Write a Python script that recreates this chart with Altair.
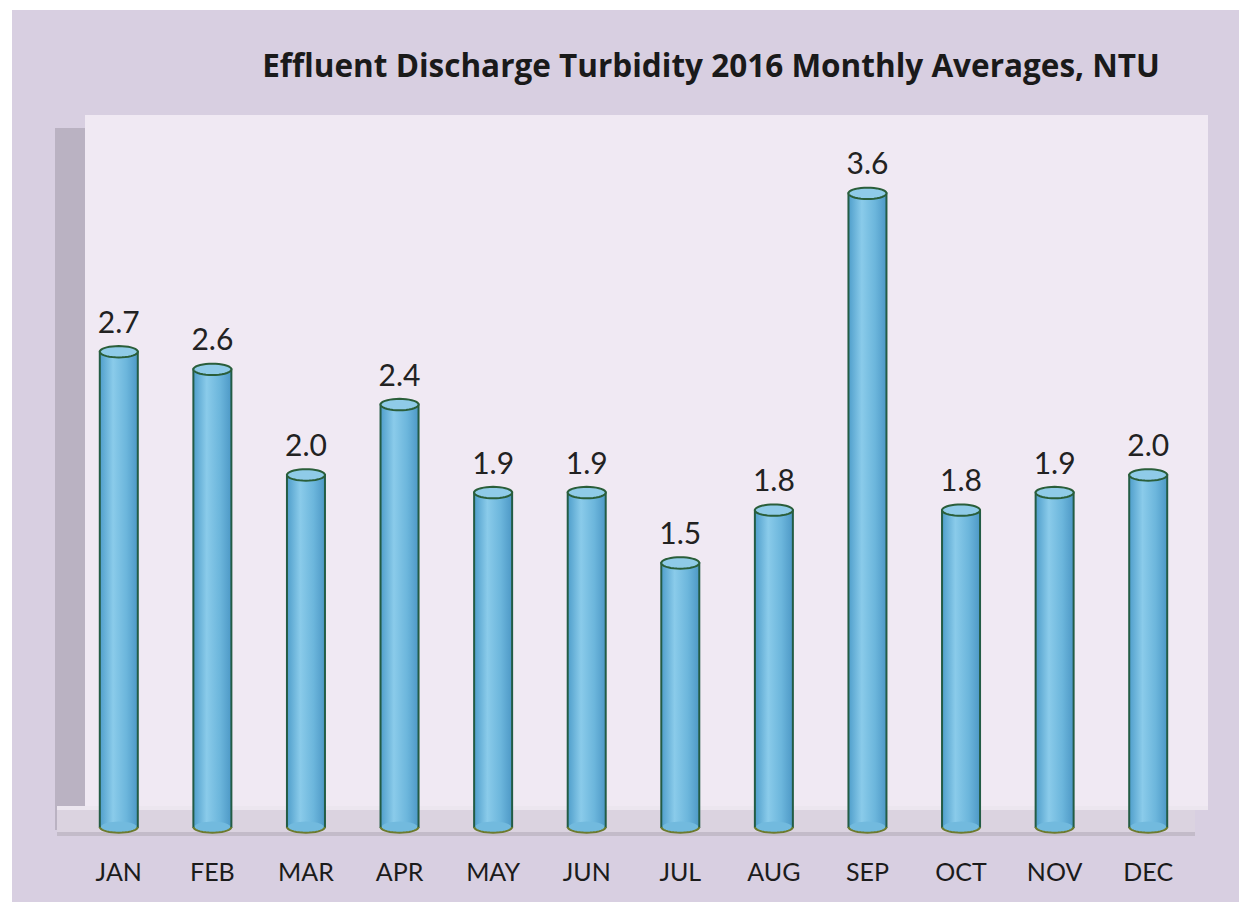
import math
import altair as alt
import pandas as pd

months = ["JAN", "FEB", "MAR", "APR", "MAY", "JUN", "JUL", "AUG", "SEP", "OCT", "NOV", "DEC"]
values = [2.7, 2.6, 2.0, 2.4, 1.9, 1.9, 1.5, 1.8, 3.6, 1.8, 1.9, 2.0]
baseline_values = [0.0] * 12
title_text = "Effluent Discharge  Turbidity 2016 Monthly Averages, NTU"

df = pd.DataFrame({"month": months, "value": values, "base": baseline_values})
one = pd.DataFrame({"k": [0]})
title_df = pd.DataFrame({"t": [title_text]})

W, H = 1123, 687
YMAX = 3.903


def ellipse_path(a0, a1, n, close):
    pts = []
    for i in range(n + 1):
        t = a0 + (a1 - a0) * i / n
        pts.append(f"{math.cos(t):.3f} {0.3 * math.sin(t):.3f}")
    p = "M " + " L ".join(pts)
    return p + (" Z" if close else "")


ELLIPSE = ellipse_path(0, 2 * math.pi, 36, True)
HALF_BOTTOM = ellipse_path(0, math.pi, 18, False)

yscale = alt.Scale(domain=[0, YMAX], nice=False, zero=True)
x_enc = alt.X("month:N", sort=months, title=None,
              scale=alt.Scale(paddingInner=0, paddingOuter=0),
              axis=alt.Axis(labelAngle=0, ticks=False, domain=False, grid=False,
                            labelFont="Lato", labelFontSize=25, labelColor="#1b1b1b",
                            labelPadding=33, zindex=1))
y_enc = alt.Y("value:Q", title=None, axis=None, scale=yscale)
y0_enc = alt.Y("base:Q", title=None, axis=None, scale=yscale)


def band(x1, x2, y1, y2, color):
    return alt.Chart(one).mark_rule(color=color, strokeWidth=y2 - y1).encode(
        x=alt.value(x1), x2=alt.value(x2), y=alt.value((y1 + y2) / 2))


frame = band(-60, 1168, -130, 765, "#d8cfe1")
back_wall = band(13, 1136, -25, 667, "#f0e9f3")
left_wall = band(-17, 13, -12, 690, "#bab2c2")
floor = band(-15, 1123, 667, 695, "#dbd3e0")
floor_top = band(-15, 1136, 666, 670, "#ece6ef")
floor_bottom = band(-15, 1123, 692, 696, "#c3bbc9")

title = alt.Chart(title_df).mark_text(font="Open Sans", fontWeight="bold", fontSize=31.5,
                                      color="#1a1a1a", align="center",
                                      baseline="alphabetic").encode(
    text="t:N", x=alt.value(639), y=alt.value(-63))

base = alt.Chart(df).encode(x=x_enc, y=y_enc)

bar_grad = alt.Gradient(gradient="linear",
                        stops=[alt.GradientStop(color="#4f9ecb", offset=0),
                               alt.GradientStop(color="#8acbea", offset=0.35),
                               alt.GradientStop(color="#6cb6dc", offset=0.7),
                               alt.GradientStop(color="#4d98c6", offset=1)],
                        x1=0, x2=1, y1=0, y2=0)
bars = base.mark_bar(size=38, stroke="#235c45", strokeWidth=2, color=bar_grad)
bottom_fill = base.mark_point(shape=ELLIPSE, size=1300, filled=True, fill="#72bade",
                              opacity=1, strokeWidth=0).encode(y=y0_enc)
bottom_arc = base.mark_point(shape=HALF_BOTTOM, size=1444, filled=False,
                             stroke="#6c7b2e", strokeWidth=2, opacity=1).encode(y=y0_enc)
tops = base.mark_point(shape=ELLIPSE, size=1444, filled=True, fill="#8fcbe8",
                       stroke="#2a5e3a", strokeWidth=2, opacity=1)
labels = base.mark_text(font="Lato", fontSize=30, color="#222222", dy=-19,
                        baseline="alphabetic", align="center").encode(
    text=alt.Text("value:Q", format=".1f"))

chart = alt.layer(frame, back_wall, left_wall, floor, floor_top, floor_bottom, title,
                  bars, bottom_fill, bottom_arc, tops, labels).properties(
    width=W, height=H,
    autosize=alt.AutoSizeParams(type="none"),
    padding={"left": 64, "top": 132, "right": 44, "bottom": 75},
).configure(background="white").configure_view(strokeWidth=0)

chart.save("out.html", embed_options={"renderer": "svg", "actions": False})
